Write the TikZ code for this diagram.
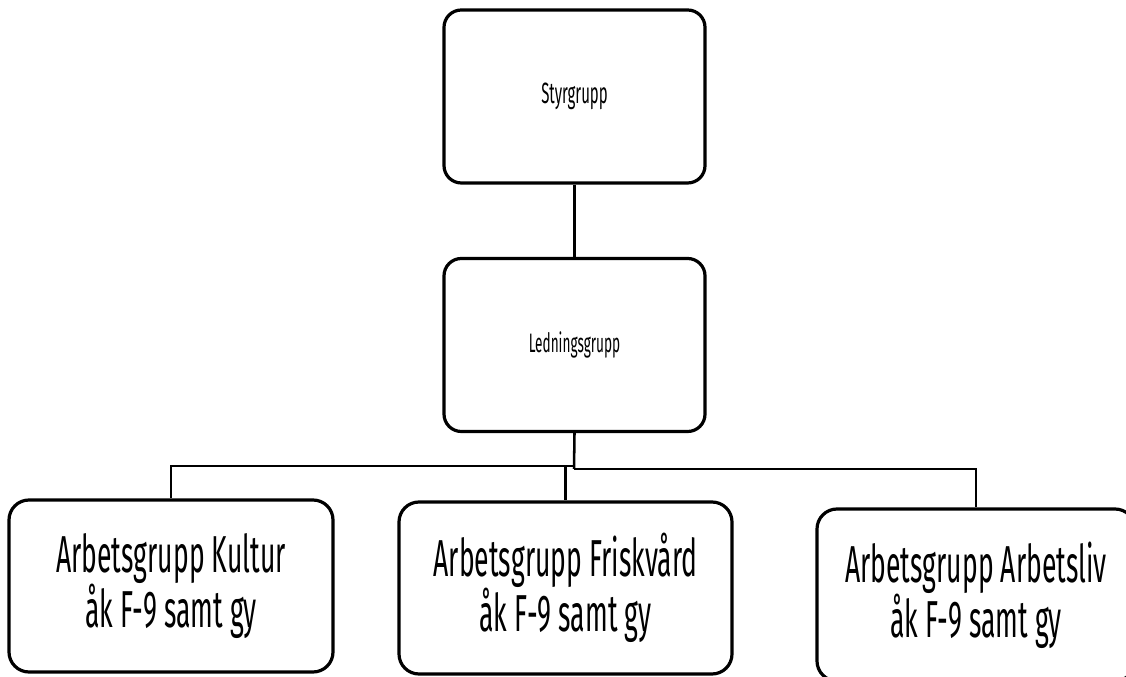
\documentclass[tikz,border=0pt]{standalone}
\usepackage{fontspec}
\setmainfont[FakeStretch=0.51]{Fira Sans}
\usepackage{tikz}
\usetikzlibrary{positioning}

\begin{document}
\begin{tikzpicture}[x=0.75pt,y=0.75pt,
  topbox/.style={draw, line width=2.4pt, rounded corners=13pt, align=center,
    minimum width=261*0.75pt, minimum height=173*0.75pt, inner sep=0pt},
  groupbox/.style={draw, line width=2.4pt, rounded corners=15pt, align=center,
    minimum height=172*0.75pt, inner sep=0pt,
    font=\fontsize{39}{41}\selectfont},
  link/.style={line width=1.9pt}]
\useasboundingbox (0,0) rectangle (1126,677);

\node [topbox, font=\fontsize{22}{26}\selectfont] (styr) at (574.5,580.5) {Styrgrupp};
\node [topbox, font=\fontsize{20}{23}\selectfont] (led) at (574.5,332) {Ledningsgrupp};

\node [groupbox, minimum width=324*0.75pt] (kultur) at (171,91)
  {Arbetsgrupp Kultur\\åk F-9 samt gy};
\node [groupbox, minimum width=333*0.75pt] (frisk) at (565.5,89)
  {Arbetsgrupp Friskvård\\åk F-9 samt gy};
\node [groupbox, minimum width=318*0.75pt] (arbliv) at (976,82)
  {Arbetsgrupp Arbetsliv\\åk F-9 samt gy};

% connectors
\coordinate (jl) at (574,211);
\coordinate (jr) at (574,208);
\draw [link] (styr) -- (led);
\draw [link] (led.south) -- (jr);
\draw [link] (jl) -| (kultur.north);
\draw [link] (jl) -| (frisk.north);
\draw [link] (jr) -| (arbliv.north);
\end{tikzpicture}
\end{document}
